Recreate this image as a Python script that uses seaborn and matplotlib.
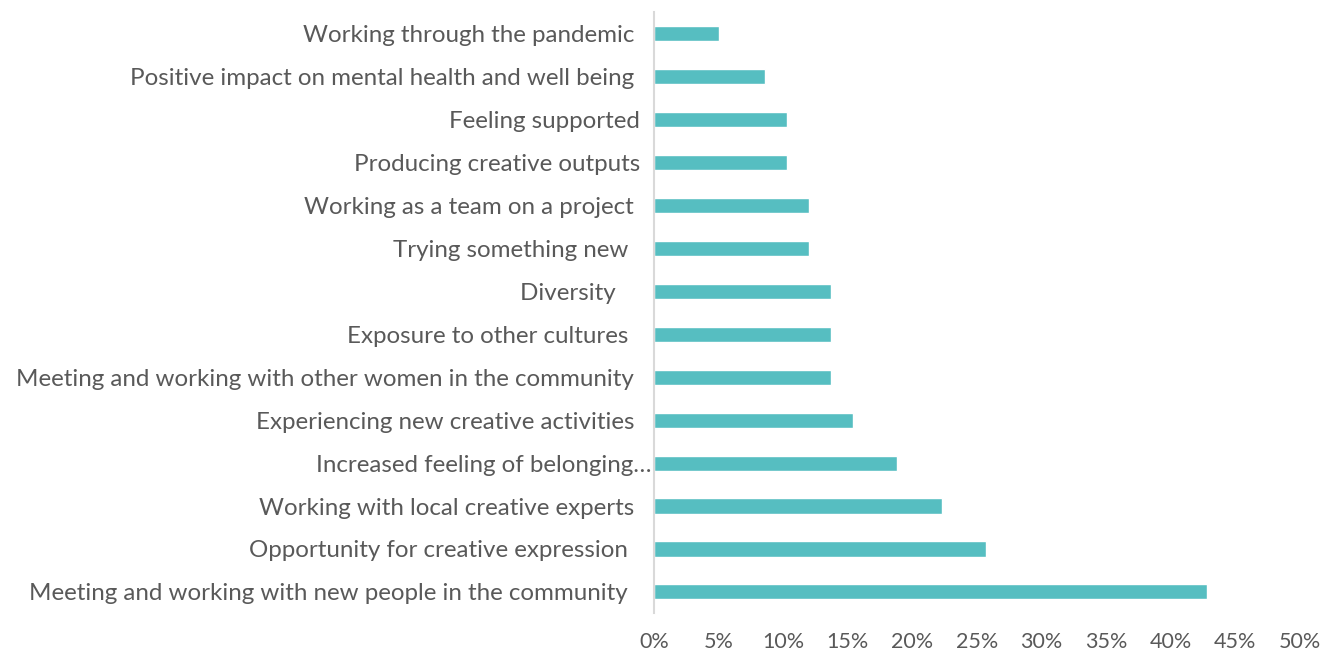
import matplotlib
matplotlib.use("Agg")
import matplotlib.pyplot as plt
import matplotlib.transforms as mtransforms
import seaborn as sns
import pandas as pd
from matplotlib.ticker import PercentFormatter

categories = [
    "Working through the pandemic ",
    "Positive impact on mental health and well being ",
    "Feeling supported",
    "Producing creative outputs",
    "Working as a team on a project ",
    "Trying something new  ",
    "Diversity    ",
    "Exposure to other cultures  ",
    "Meeting and working with other women in the community ",
    "Experiencing new creative activities ",
    "Increased feeling of belonging\u2026",
    "Working with local creative experts ",
    "Opportunity for creative expression  ",
    "Meeting and working with new people in the community  ",
]
values = [5.0, 8.6, 10.3, 10.3, 12.0, 12.0, 13.7, 13.7, 13.7, 15.4, 18.8, 22.3, 25.7, 42.8]
x_ticks = [0, 5, 10, 15, 20, 25, 30, 35, 40, 45, 50]

df = pd.DataFrame({"category": categories, "value": values})

sns.set_theme(style="white")
plt.rcParams["font.family"] = ["Lato", "DejaVu Sans"]

text_color = "#595959"
bar_color = "#56BEC1"

fig = plt.figure(figsize=(13.21, 6.54), dpi=100)
ax = fig.add_axes([0.4951, 0.062, 0.489, 0.920])

sns.barplot(data=df, x="value", y="category", orient="h", color=bar_color,
            width=0.35, saturation=1, ax=ax)

ax.set_xlim(0, 50)
ax.set_xticks(x_ticks)
ax.xaxis.set_major_formatter(PercentFormatter(decimals=0))
ax.set_xlabel("")
ax.set_ylabel("")

for side in ["top", "right", "bottom"]:
    ax.spines[side].set_visible(False)
ax.spines["left"].set_color("#D9D9D9")
ax.spines["left"].set_linewidth(1.5)

ax.tick_params(axis="y", length=0, pad=10, labelsize=17.4, labelcolor=text_color)
ax.tick_params(axis="x", length=0, pad=13, labelsize=15.5, labelcolor=text_color)

# the truncated label runs a little closer to the axis line
for lbl in ax.get_yticklabels():
    if lbl.get_text().endswith("\u2026"):
        lbl.set_transform(lbl.get_transform() +
                          mtransforms.ScaledTranslation(0.11, 0, fig.dpi_scale_trans))

fig.savefig("out.png", dpi=100, facecolor="white")
